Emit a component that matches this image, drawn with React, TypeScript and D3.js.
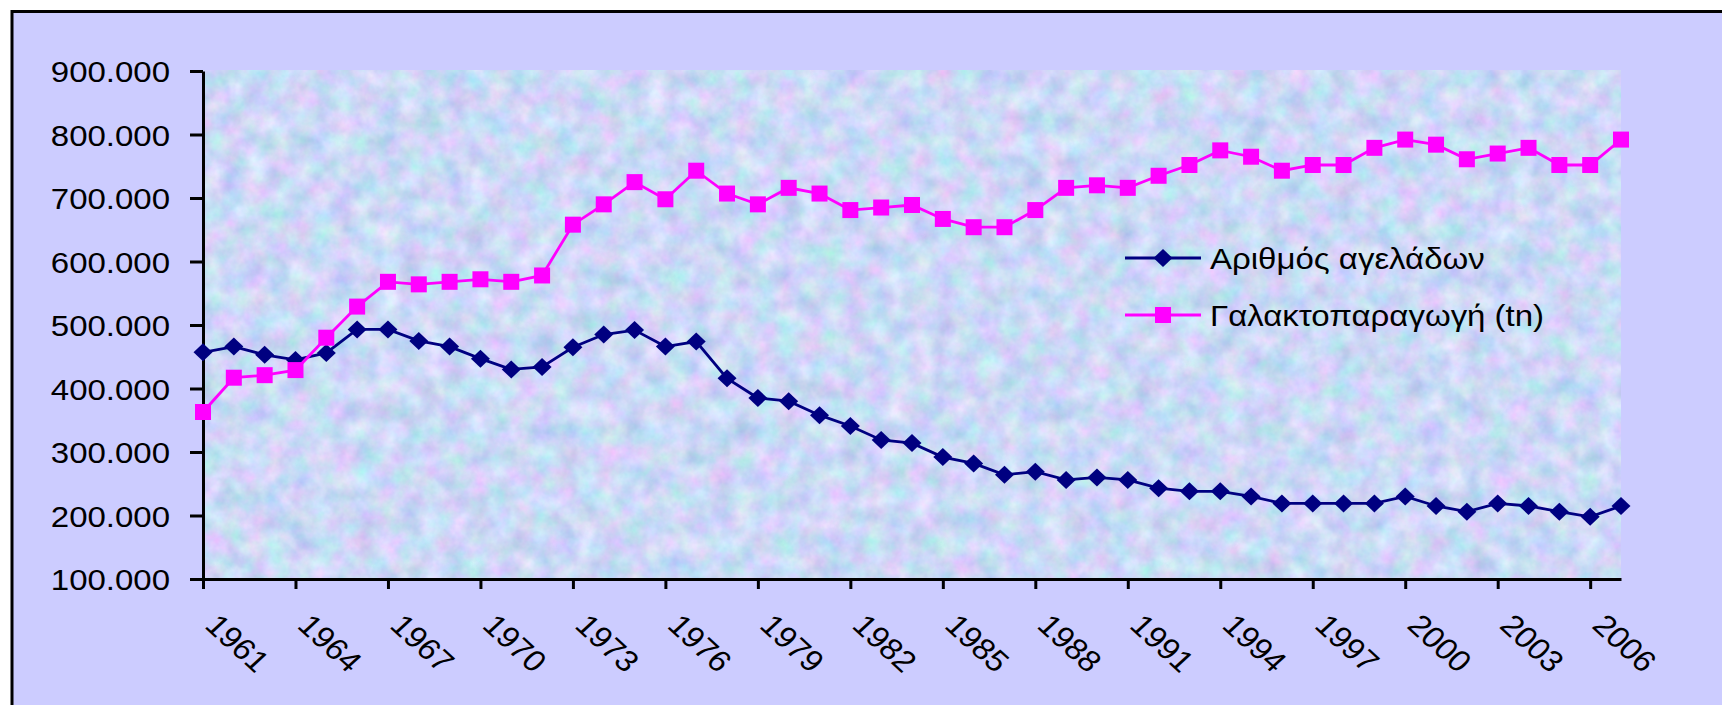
import { useRef, useEffect } from 'react'
import * as d3 from 'd3'

const years = d3.range(1961, 2008)

// Αριθμός αγελάδων
const cows = [
  457000, 466000, 453000, 445000, 456000, 493000, 493000, 475000, 466000, 447000,
  430000, 434000, 465000, 485000, 492000, 466000, 474000, 416000, 385000, 380000,
  358000, 341000, 319000, 314000, 292000, 282000, 264000, 269000, 256000, 260000,
  256000, 243000, 238000, 238000, 230000, 219000, 219000, 219000, 219000, 230000,
  215000, 206000, 219000, 215000, 206000, 198000, 215000,
]

// Γαλακτοπαραγωγή (tn)
const milk = [
  363000, 417000, 421000, 429000, 480000, 529000, 568000, 564000, 568000, 572000,
  568000, 578000, 658000, 690000, 725000, 698000, 743000, 707000, 690000, 716000,
  707000, 681000, 685000, 689000, 667000, 654000, 654000, 681000, 716000, 720000,
  716000, 735000, 752000, 775000, 765000, 743000, 752000, 752000, 779000, 792000,
  784000, 761000, 770000, 779000, 752000, 752000, 792000,
]

const yTicks = [100000, 200000, 300000, 400000, 500000, 600000, 700000, 800000, 900000]
const labelYears = years.filter((_, i) => i % 3 === 0)

const seriesNames = ['Αριθμός αγελάδων', 'Γαλακτοπαραγωγή (tn)']

const W = 1722
const H = 705
const FONT = '"Liberation Sans", Arial, sans-serif'

const App = () => {
  const ref = useRef<SVGSVGElement>(null)

  useEffect(() => {
    if (!ref.current) return
    const svg = d3.select(ref.current)
    svg.selectAll('*').remove()

    const left = 203
    const right = 1621
    const top = 71
    const bottom = 579

    const x = d3.scalePoint<number>().domain(years).range([left, right])
    const y = d3.scaleLinear().domain([100000, 900000]).range([bottom, top])
    const fmt = d3.formatLocale({ decimal: ',', thousands: '.', grouping: [3], currency: ['', '€'] }).format(',')

    // pastel marble texture of the plot area
    const defs = svg.append('defs')
    const filt = defs.append('filter')
      .attr('id', 'tex')
      .attr('x', 0).attr('y', 0).attr('width', '100%').attr('height', '100%')
      .attr('color-interpolation-filters', 'sRGB')
    filt.append('feTurbulence')
      .attr('type', 'fractalNoise')
      .attr('baseFrequency', '0.045')
      .attr('numOctaves', 4)
      .attr('seed', 7)
    filt.append('feColorMatrix')
      .attr('type', 'matrix')
      .attr('values', '0.36 0 0 0 0.62  0 0.26 0 0 0.72  0.1 0 0.12 0 0.855  0 0 0 0 1')

    // background + frame
    svg.append('rect').attr('width', W).attr('height', H).attr('fill', '#ffffff')
    svg.append('rect')
      .attr('x', 12).attr('y', 11.5)
      .attr('width', W).attr('height', H)
      .attr('fill', '#ccccff')
      .attr('stroke', '#000').attr('stroke-width', 3)

    svg.append('rect')
      .attr('x', left).attr('y', 70)
      .attr('width', right - left).attr('height', bottom - 70)
      .attr('filter', 'url(#tex)')

    // axes
    const yAxis = svg.append('g')
      .attr('transform', `translate(${left},0)`)
      .call(d3.axisLeft(y).tickValues(yTicks).tickSize(13).tickSizeOuter(0).tickFormat(d => fmt(d as number)))
    yAxis.select('.domain').attr('stroke-width', 3)
    yAxis.selectAll('.tick line').attr('stroke-width', 3)
    yAxis.selectAll('.tick text')
      .attr('x', 0).attr('dy', '0.36em')
      .attr('transform', 'translate(-33,0) scale(1.1,1)')
      .attr('fill', '#000')
      .style('font-family', FONT).style('font-size', '30px')

    const xAxis = svg.append('g')
      .attr('transform', `translate(0,${bottom})`)
      .call(d3.axisBottom(x).tickValues(labelYears).tickSize(10).tickSizeOuter(0).tickFormat(d => String(d)))
    xAxis.select('.domain').attr('stroke-width', 3)
    xAxis.selectAll('.tick line').attr('stroke-width', 3)
    xAxis.selectAll('.tick text')
      .attr('x', 0).attr('y', 0).attr('dy', 0)
      .attr('transform', 'translate(0,48) scale(1.1,1) rotate(45)')
      .attr('fill', '#000')
      .style('text-anchor', 'start')
      .style('font-family', FONT).style('font-size', '30px')

    const diamond = 'M0,-9L9.5,0L0,9L-9.5,0Z'
    const square = 'M-8,-8H8V8H-8Z'
    const series = [
      { name: seriesNames[0], values: cows, color: '#000080', marker: diamond },
      { name: seriesNames[1], values: milk, color: '#ff00ff', marker: square },
    ]

    const line = d3.line<number>()
      .x((_, i) => x(years[i]) as number)
      .y(d => y(d))

    series.forEach(s => {
      svg.append('path')
        .attr('d', line(s.values))
        .attr('fill', 'none')
        .attr('stroke', s.color)
        .attr('stroke-width', 2.8)
      svg.append('g')
        .selectAll('path')
        .data(s.values)
        .enter()
        .append('path')
        .attr('d', s.marker)
        .attr('transform', (d, i) => `translate(${x(years[i])},${y(d)})`)
        .attr('fill', s.color)
    })

    // legend
    const lg = svg.append('g')
    series.forEach((s, i) => {
      const ly = 258 + i * 57
      lg.append('line')
        .attr('x1', 1125).attr('x2', 1201)
        .attr('y1', ly).attr('y2', ly)
        .attr('stroke', s.color).attr('stroke-width', 2.8)
      lg.append('path')
        .attr('d', s.marker)
        .attr('transform', `translate(1163,${ly})`)
        .attr('fill', s.color)
      lg.append('text')
        .attr('transform', `translate(1210,${ly + 10.5}) scale(1.1,1)`)
        .style('font-family', FONT).style('font-size', '30px')
        .attr('fill', '#000')
        .text(s.name)
    })
  }, [])

  return (
    <svg
      ref={ref}
      width={W}
      height={H}
      style={{ position: 'absolute', left: 0, top: 0, display: 'block' }}
    />
  )
}

export default App
